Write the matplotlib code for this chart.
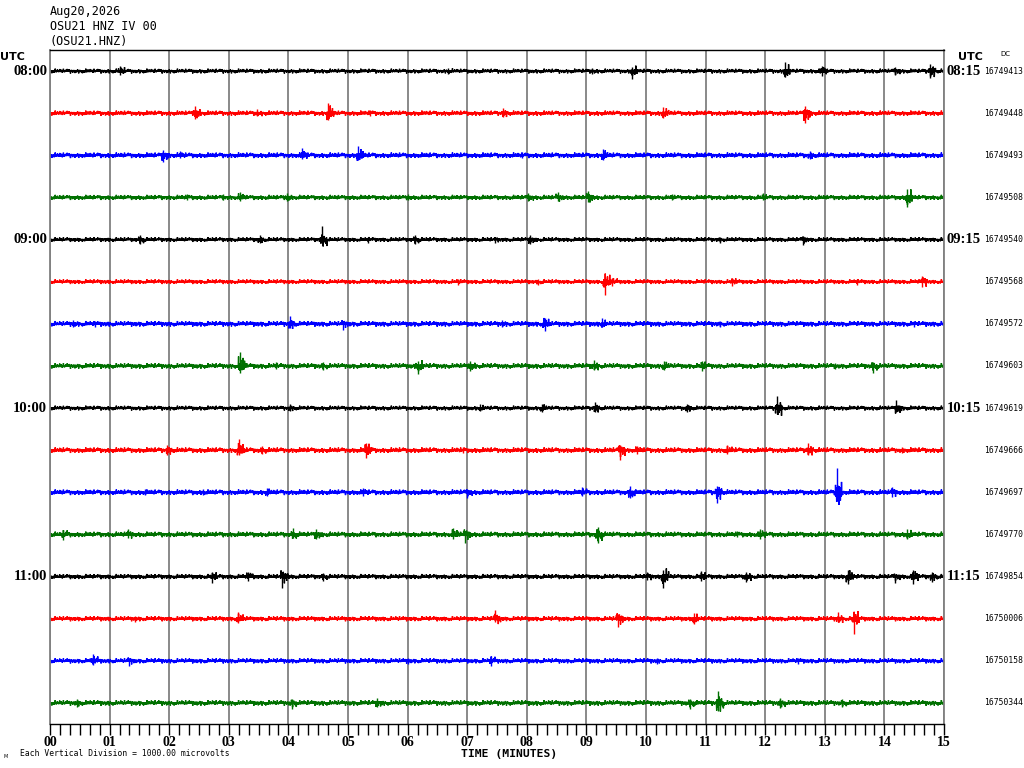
import numpy as np
import matplotlib.pyplot as plt
from matplotlib.ticker import MultipleLocator, FixedLocator

# helicorder OSU21 HNZ, 16 lines of 15 minutes
trace_colors = ['black', 'red', 'blue', '#007000'] * 4
left_labels = ['08:00', '', '', '', '09:00', '', '', '', '10:00', '', '', '', '11:00', '', '', '']
right_labels = ['08:15', '', '', '', '09:15', '', '', '', '10:15', '', '', '', '11:15', '', '', '']
dc_counts = ['16749413', '16749448', '16749493', '16749508', '16749540', '16749568',
             '16749572', '16749603', '16749619', '16749666', '16749697', '16749770',
             '16749854', '16750006', '16750158', '16750344']
minute_labels = ['%02d' % m for m in range(16)]

# background noise level per line (pixels)
noise_px = [2.4, 2.6, 2.8, 2.6, 2.4, 2.4, 2.8, 2.8, 2.4, 2.8, 2.8, 2.8, 2.6, 2.6, 2.6, 2.8]

# events: minute, peak up, peak down (pixels)
event_min = [
    [1.17, 6.68, 9.1, 9.77, 12.33, 12.95, 14.18, 14.77],
    [2.43, 3.47, 4.67, 5.37, 7.6, 10.29, 12.67],
    [1.9, 2.18, 4.23, 5.17, 7.92, 9.28, 12.75],
    [2.3, 2.9, 3.19, 3.97, 6.0, 8.02, 8.52, 9.03, 10.43, 11.96, 14.38],
    [1.51, 3.52, 4.56, 5.34, 6.12, 7.47, 8.05, 11.24, 12.63],
    [6.85, 8.19, 9.31, 9.43, 11.44, 13.54, 14.63],
    [0.39, 0.75, 4.03, 4.92, 7.58, 8.3, 9.26, 11.24, 14.5],
    [3.19, 3.8, 4.58, 6.17, 7.05, 9.12, 10.3, 10.94, 13.17, 13.81],
    [4.03, 7.21, 8.25, 9.14, 10.69, 12.2, 14.2],
    [1.97, 3.17, 3.55, 5.31, 6.93, 9.56, 9.85, 11.36, 12.72, 14.3],
    [1.6, 2.57, 3.64, 5.26, 7.0, 8.93, 9.73, 11.19, 13.2, 14.13],
    [0.22, 1.31, 4.08, 4.47, 6.77, 6.97, 9.19, 11.53, 11.91, 14.38],
    [2.72, 3.33, 3.9, 4.58, 10.02, 10.29, 10.93, 11.68, 13.39, 14.18, 14.48, 14.8],
    [1.43, 3.16, 7.47, 9.53, 10.8, 13.22, 13.49],
    [0.72, 1.33, 6.0, 7.4, 10.18, 12.55],
    [0.45, 4.06, 5.49, 10.74, 11.21, 12.25, 13.29],
]
event_up = [
    [5, 3, 3, 4, 9, 5, 4, 7],
    [7, 4, 10, 3, 5, 6, 7],
    [5, 4, 7, 9, 3, 6, 4],
    [3, 3, 5, 4, 3, 4, 5, 6, 3, 4, 8],
    [5, 5, 14, 3, 5, 3, 5, 3, 4],
    [3, 3, 5, 4, 4, 3, 6],
    [4, 3, 8, 3, 4, 6, 6, 3, 3],
    [14, 4, 4, 5, 5, 6, 5, 5, 3, 4],
    [4, 4, 4, 6, 4, 12, 8],
    [5, 11, 4, 7, 3, 5, 4, 5, 7, 3],
    [3, 3, 4, 4, 3, 5, 6, 6, 24, 5],
    [4, 5, 6, 5, 6, 3, 7, 3, 5, 5],
    [4, 5, 4, 4, 5, 7, 6, 5, 7, 3, 7, 5],
    [3, 7, 9, 5, 6, 7, 3],
    [7, 3, 3, 5, 3, 3],
    [4, 4, 5, 4, 12, 5, 4],
]
event_down = [
    [4, 3, 3, 8, 6, 5, 4, 7],
    [6, 3, 7, 3, 4, 5, 10],
    [7, 3, 4, 5, 3, 5, 4],
    [3, 3, 4, 4, 3, 4, 4, 5, 3, 3, 10],
    [4, 3, 2, 3, 4, 3, 4, 3, 5],
    [3, 3, 13, 4, 4, 3, 5],
    [3, 3, 4, 6, 3, 7, 3, 3, 3],
    [7, 3, 4, 8, 5, 4, 4, 5, 3, 7],
    [3, 3, 4, 4, 4, 6, 4],
    [5, 5, 4, 8, 3, 10, 4, 4, 5, 3],
    [3, 3, 4, 4, 6, 4, 6, 11, 9, 5],
    [6, 4, 4, 5, 5, 9, 9, 3, 5, 5],
    [6, 4, 11, 4, 3, 11, 4, 5, 7, 6, 7, 5],
    [3, 4, 3, 8, 5, 3, 15],
    [4, 5, 3, 5, 3, 3],
    [4, 6, 4, 6, 8, 5, 4],
]

# hand typed wiggle shape, repeated along each line
wiggle = [0.2, 0.45, 0.15, 0.6, 0.3, 0.9, 0.2, 0.4, 0.1, 0.55, 0.3, 0.7, 0.2, 0.35,
          1.0, 0.4, 0.2, 0.5, 0.3, 0.15, 0.65, 0.35, 0.2, 0.45, 0.1, 0.3, 0.85, 0.4,
          0.2, 0.35, 0.55, 0.15, 0.3, 0.7, 0.2, 0.4, 0.95, 0.3, 0.15, 0.5, 0.25]

PX = 1.0 / 42.13   # one pixel in line-spacing units
n = 2400
t = np.linspace(0, 15, n)
sign = np.where(np.arange(n) % 2 == 0, 1.0, -1.0)
fac = np.resize(np.array(wiggle), n)

fig = plt.figure(figsize=(10.24, 7.68), dpi=100)
ax = fig.add_axes([50/1024, 44/768, 894/1024, 674/768])

for i in range(16):
    env = np.full(n, noise_px[i])
    for tm, up, dn in zip(event_min[i], event_up[i], event_down[i]):
        w = (t > tm - 0.03) & (t < tm + 0.09)
        env[w] = np.maximum(env[w], 0.9 * (up + dn) / 2)
    y = i - sign * fac * env * PX
    ax.plot(t, y, color=trace_colors[i], lw=1.0, solid_joinstyle='miter')
    ax.vlines(event_min[i], [i - u * PX for u in event_up[i]],
              [i + d * PX for d in event_down[i]], color=trace_colors[i], lw=1.0)

serif = 'Liberation Serif'
mono = 'DejaVu Sans Mono'

ax.set_xlim(0, 15)
ax.set_ylim(15.5, -0.5)
ax.set_yticks([])
ax.xaxis.set_major_locator(FixedLocator(range(16)))
ax.xaxis.set_minor_locator(MultipleLocator(1/6))
ax.set_xticklabels(minute_labels, fontfamily=serif, fontweight='bold', fontsize=10)
ax.tick_params(axis='x', which='both', direction='out', length=8, width=1, color='black', pad=0.5)
ax.grid(axis='x', which='major', color='#808080', lw=1.3)
ax.set_axisbelow(True)
for s in ['left', 'right']:
    ax.spines[s].set_color('#808080')
    ax.spines[s].set_linewidth(1.3)
for s in ['top', 'bottom']:
    ax.spines[s].set_color('black')
    ax.spines[s].set_linewidth(1.0)

for i in range(16):
    if left_labels[i]:
        ax.text(-0.05, i, left_labels[i], ha='right', va='center', fontsize=10.5,
                fontfamily=serif, fontweight='bold')
    if right_labels[i]:
        ax.text(15.05, i, right_labels[i], ha='left', va='center', fontsize=10.5,
                fontfamily=serif, fontweight='bold')
    ax.text((984 - 50) / 894, i, dc_counts[i], transform=ax.get_yaxis_transform(),
            ha='left', va='center', fontsize=5.8, fontfamily=mono)

fig.text(50/1024, 1 - 12/768, 'Aug20,2026', fontsize=8.5, fontfamily=mono, va='center')
fig.text(50/1024, 1 - 27/768, 'OSU21 HNZ IV 00', fontsize=8.5, fontfamily=mono, va='center')
fig.text(50/1024, 1 - 42/768, '(OSU21.HNZ)', fontsize=8.5, fontfamily=mono, va='center')
fig.text(0/1024, 1 - 57/768, 'UTC', fontsize=8, fontweight='bold', va='center')
fig.text(958/1024, 1 - 57/768, 'UTC', fontsize=8, fontweight='bold', va='center')
fig.text(1000/1024, 1 - 54/768, 'DC', fontsize=5, va='center')
fig.text(509/1024, 1 - 757/768, 'TIME (MINUTES)', fontsize=8.2, fontfamily=mono,
         fontweight='bold', ha='center', va='baseline')
fig.text(20/1024, 1 - 754/768, 'Each Vertical Division = 1000.00 microvolts',
         fontsize=5.8, fontfamily=mono, va='center')
fig.text(3/1024, 1 - 757/768, 'M', fontsize=3.5, va='center')

fig.savefig('out.png', dpi=100)
